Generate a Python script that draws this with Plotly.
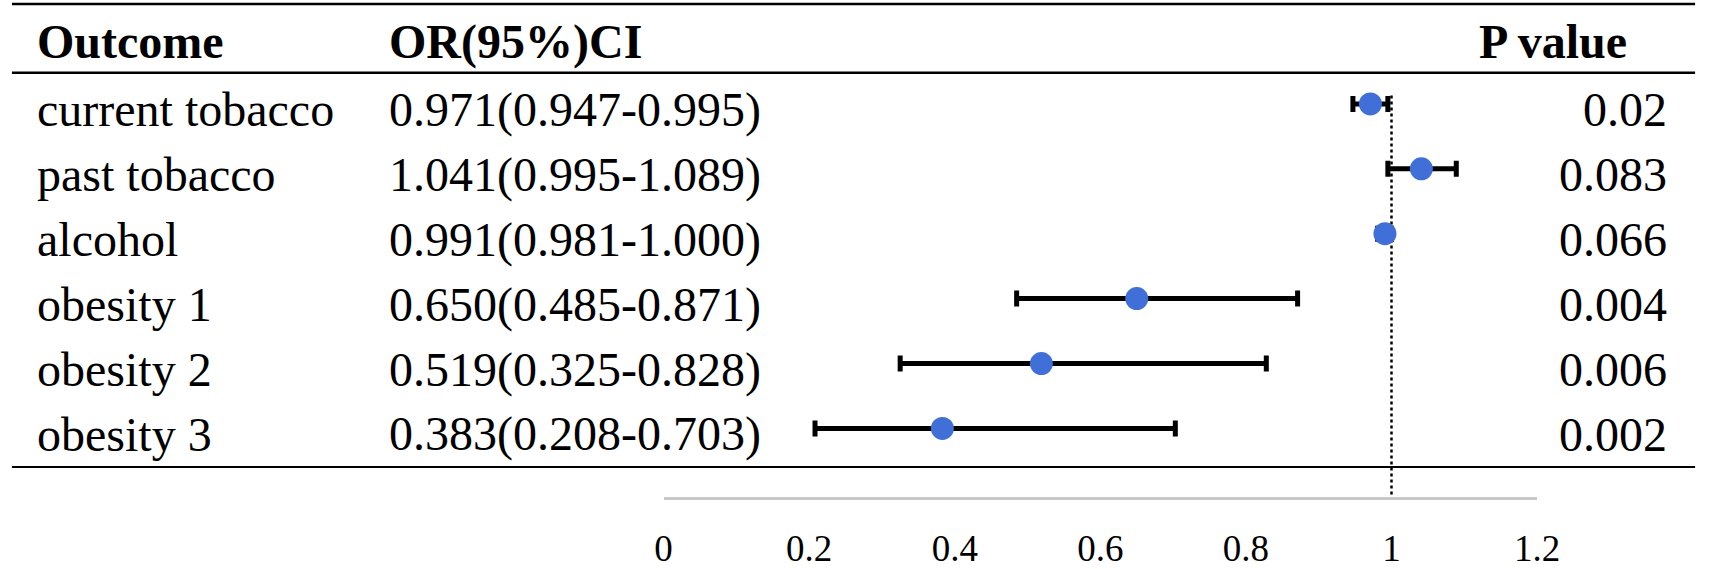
import plotly.graph_objects as go

# Table data
outcomes = ['current tobacco', 'past tobacco', 'alcohol', 'obesity 1', 'obesity 2', 'obesity 3']
or_vals = [0.971, 1.041, 0.991, 0.650, 0.519, 0.383]
ci_low = [0.947, 0.995, 0.981, 0.485, 0.325, 0.208]
ci_high = [0.995, 1.089, 1.000, 0.871, 0.828, 0.703]
p_vals = ['0.02', '0.083', '0.066', '0.004', '0.006', '0.002']
headers = ['Outcome', 'OR(95%)CI', 'P value']
tick_vals = [0, 0.2, 0.4, 0.6, 0.8, 1, 1.2]
tick_text = ['0', '0.2', '0.4', '0.6', '0.8', '1', '1.2']

W, H = 1723, 569
font_name = 'Liberation Serif'
rows = list(range(len(outcomes)))

fig = go.Figure()

# Reference line at OR = 1
fig.add_trace(go.Scatter(x=[1, 1], y=[-0.13, 6.05], mode='lines',
                         line=dict(color='black', width=2.5, dash='dot'),
                         hoverinfo='skip', showlegend=False, cliponaxis=False))

# Point estimates with CI
fig.add_trace(go.Scatter(
    x=or_vals, y=rows, mode='markers',
    marker=dict(color='#3f6fd7', size=23),
    error_x=dict(type='data', symmetric=False,
                 array=[h - o for h, o in zip(ci_high, or_vals)],
                 arrayminus=[o - l for o, l in zip(or_vals, ci_low)],
                 color='black', thickness=5, width=8),
    showlegend=False))

# Table text
ann = []
col_x = [27 / W, 385 / W]
ann.append(dict(x=col_x[0], y=-0.96, text='<b>' + headers[0] + '</b>', xanchor='left'))
ann.append(dict(x=col_x[1], y=-0.96, text='<b>' + headers[1] + '</b>', xanchor='left'))
ann.append(dict(x=1651 / W, y=-0.96, text='<b>' + headers[2] + '</b>', xanchor='right'))
for i in rows:
    ci_txt = '{:.3f}({:.3f}-{:.3f})'.format(or_vals[i], ci_low[i], ci_high[i])
    ann.append(dict(x=col_x[0], y=i, text=outcomes[i], xanchor='left', yshift=-6))
    ann.append(dict(x=col_x[1], y=i, text=ci_txt, xanchor='left', yshift=-6))
    ann.append(dict(x=1691 / W, y=i, text=p_vals[i], xanchor='right', yshift=-6))
for a in ann:
    a.update(xref='paper', yref='y', yanchor='middle', showarrow=False,
             font=dict(family=font_name, size=48, color='black'))

# Table rules
shapes = []
for yy, lw in [(-1.54, 2.5), (-0.48, 2.5), (5.595, 2)]:
    shapes.append(dict(type='line', xref='paper', yref='y', x0=3 / W, x1=1718 / W,
                       y0=yy, y1=yy, line=dict(color='black', width=lw)))

fig.update_layout(
    width=W, height=H,
    margin=dict(l=0, r=0, t=0, b=0),
    paper_bgcolor='white', plot_bgcolor='white',
    annotations=ann, shapes=shapes,
    xaxis=dict(domain=[667 / W, 1557 / W], range=[0, 1.2],
               showline=True, linecolor='#c8c8c8', linewidth=3,
               showgrid=False, zeroline=False, ticks='',
               tickvals=tick_vals, ticktext=tick_text,
               ticklabelstandoff=17,
               tickfont=dict(family=font_name, size=37, color='black')),
    yaxis=dict(domain=[(H - 502) / H, 1], range=[6.052, -1.601], visible=False),
)

# drop the default page margin so the figure sits at the window corner
fig.write_html('out.html', config={'displayModeBar': False},
               post_script="document.body.style.margin='0';")
